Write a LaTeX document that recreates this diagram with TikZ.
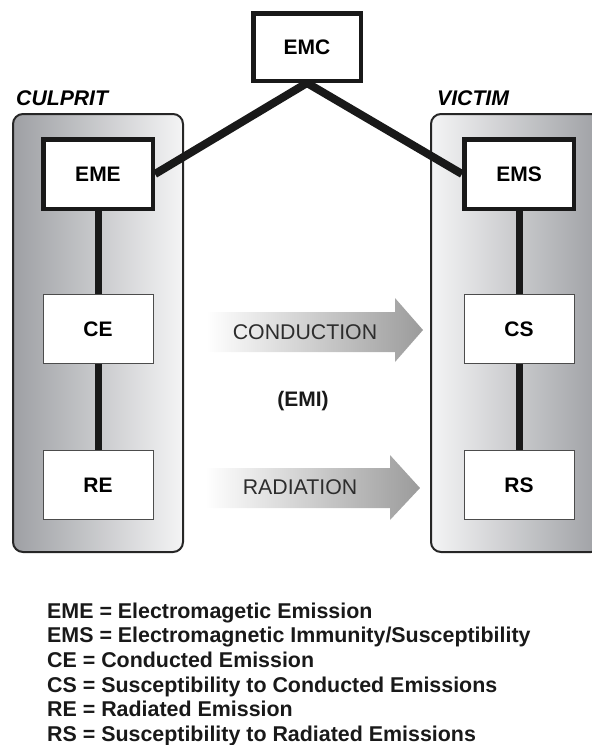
\documentclass[tikz,border=0pt]{standalone}
\usepackage{fontspec}
\setmainfont{Liberation Sans}
\pgfdeclarelayer{bg}
\pgfdeclarelayer{mid}
\pgfsetlayers{bg,mid,main}
\definecolor{cdark}{RGB}{158,160,164}
\definecolor{clight}{RGB}{244,244,245}
\definecolor{arrowgray}{RGB}{155,155,155}
\definecolor{txtgray}{RGB}{45,45,45}
\tikzset{
  thickbox/.style={draw=black!90, line width=4.5pt, fill=white, inner sep=0pt,
    minimum width=109.5pt, minimum height=69.5pt,
    font=\bfseries\fontsize{21}{24}\selectfont},
  thinbox/.style={draw=black!70, line width=1pt, fill=white, inner sep=0pt,
    minimum width=110pt, minimum height=69pt,
    font=\bfseries\fontsize{21}{24}\selectfont},
  link/.style={line width=8pt, draw=black!90},
  vlink/.style={line width=7pt, draw=black!90},
  container/.style={draw=black!85, line width=2pt, rounded corners=10pt},
  grouplabel/.style={inner sep=0pt, anchor=base west,
    font=\bfseries\itshape\fontsize{21.2}{24}\selectfont},
  pathlabel/.style={inner sep=0pt, text=txtgray,
    font=\fontsize{21.3}{24}\selectfont},
  legendline/.style={inner sep=0pt, anchor=base west, text=black!90,
    font=\bfseries\fontsize{21.4}{24}\selectfont},
}
\begin{document}
\begin{tikzpicture}[x=1pt,y=-1pt]
\clip (0,0) rectangle (592,745);
\useasboundingbox (0,0) rectangle (592,745);

% nodes
\node[thickbox, minimum width=107.5pt, minimum height=67.5pt] (EMC) at (307,47) {EMC};
\node[thickbox] (EME) at (98,174) {EME};
\node[thickbox] (EMS) at (519,174) {EMS};
\node[thinbox] (CE) at (98,329) {CE};
\node[thinbox] (RE) at (98,485) {RE};
\node[thinbox] (CS) at (519,329) {CS};
\node[thinbox] (RS) at (519,485) {RS};

\node[grouplabel] (culprit) at (16,105) {CULPRIT};
\node[grouplabel] (victim) at (437,105) {VICTIM};

\node[pathlabel] (cond) at (305,332) {CONDUCTION};
\node[pathlabel] (rad) at (300,487) {RADIATION};
\node[pathlabel, text=black!90, font=\bfseries\fontsize{21}{24}\selectfont] (emi) at (303,401) {(EMI)};

% containers
\begin{pgfonlayer}{bg}
  \path[container, left color=cdark, right color=clight] (13,114) rectangle (183,552);
  \path[container, left color=clight, right color=cdark] (431,114) rectangle (601,552);
\end{pgfonlayer}

% connectors and arrows
\begin{pgfonlayer}{mid}
  \draw[link, line join=miter] (EME.east) -- (EMC.south) -- (EMS.west);
  \draw[vlink] (EME) -- (CE);
  \draw[vlink] (CE) -- (RE);
  \draw[vlink] (EMS) -- (CS);
  \draw[vlink] (CS) -- (RS);
  \shade[left color=white, right color=arrowgray]
    (206,312) -- (395,312) -- (395,298) -- (423,330) -- (395,362) -- (395,352) -- (206,352) -- cycle;
  \shade[left color=white, right color=arrowgray]
    (205,468) -- (390,468) -- (390,455) -- (420,488) -- (390,520) -- (390,508) -- (205,508) -- cycle;
\end{pgfonlayer}

% legend
\node[legendline] (l1) at (47,618) {EME = Electromagetic Emission};
\node[legendline] (l2) at (47,642.7) {EMS = Electromagnetic Immunity/Susceptibility};
\node[legendline] (l3) at (47,667.4) {CE = Conducted Emission};
\node[legendline] (l4) at (47,692.1) {CS = Susceptibility to Conducted Emissions};
\node[legendline] (l5) at (47,716.8) {RE = Radiated Emission};
\node[legendline] (l6) at (47,741.5) {RS = Susceptibility to Radiated Emissions};
\end{tikzpicture}
\end{document}
